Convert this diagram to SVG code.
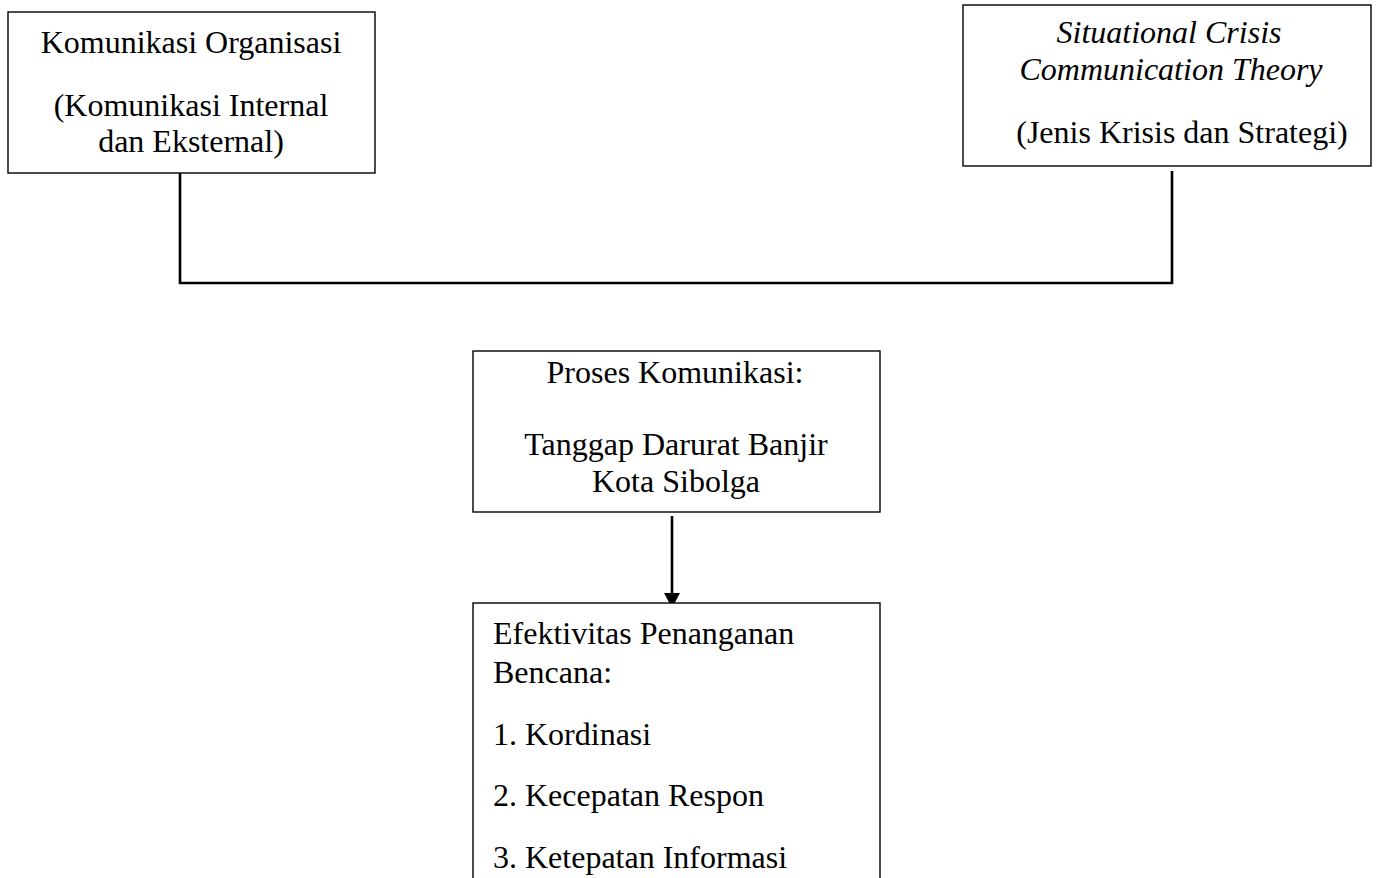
<svg xmlns="http://www.w3.org/2000/svg" width="1379" height="878" viewBox="0 0 1379 878">
<style>
.box{fill:#fff;stroke:#000;stroke-width:1.4}
.t{font-family:"Liberation Serif","Times New Roman",serif;font-size:32px;fill:#000}
.c{text-anchor:middle}
.i{font-style:italic}
.conn{fill:none;stroke:#000;stroke-width:2.6}
</style>
<defs>
<marker id="arr" markerWidth="16" markerHeight="15" refX="8" refY="15" orient="auto-start-reverse" markerUnits="userSpaceOnUse" viewBox="0 0 16 15">
<path d="M0,0 L16,0 L8,15 Z" fill="#000"/>
</marker>
</defs>
<rect width="1379" height="878" fill="#fff"/>
<g id="connectors">
<path class="conn" d="M180,171 V283 H1172 V171"/>
<path class="conn" d="M672,516 V593"/>
<path d="M664,593 L680,593 L672,608 Z" fill="#000"/>
</g>
<g id="node-komunikasi-organisasi">
<rect class="box" x="8" y="12" width="367" height="161"/>
<text class="t c" x="191" y="53">Komunikasi Organisasi</text>
<text class="t c" x="191" y="116">(Komunikasi Internal</text>
<text class="t c" x="191" y="152">dan Eksternal)</text>
</g>
<g id="node-scct">
<rect class="box" x="963" y="5" width="408" height="161"/>
<text class="t c i" x="1169" y="43">Situational Crisis</text>
<text class="t c i" x="1171" y="80">Communication Theory</text>
<text class="t c" x="1182" y="143">(Jenis Krisis dan Strategi)</text>
</g>
<g id="node-proses">
<rect class="box" x="473" y="351" width="407" height="161"/>
<text class="t c" x="675" y="383">Proses Komunikasi:</text>
<text class="t c" x="676" y="455">Tanggap Darurat Banjir</text>
<text class="t c" x="676" y="492">Kota Sibolga</text>
</g>
<g id="node-efektivitas">
<rect class="box" x="473" y="603" width="407" height="300"/>
<text class="t" x="493" y="644">Efektivitas Penanganan</text>
<text class="t" x="493" y="683">Bencana:</text>
<text class="t" x="493" y="745">1. Kordinasi</text>
<text class="t" x="493" y="806">2. Kecepatan Respon</text>
<text class="t" x="493" y="868">3. Ketepatan Informasi</text>
</g>
</svg>
